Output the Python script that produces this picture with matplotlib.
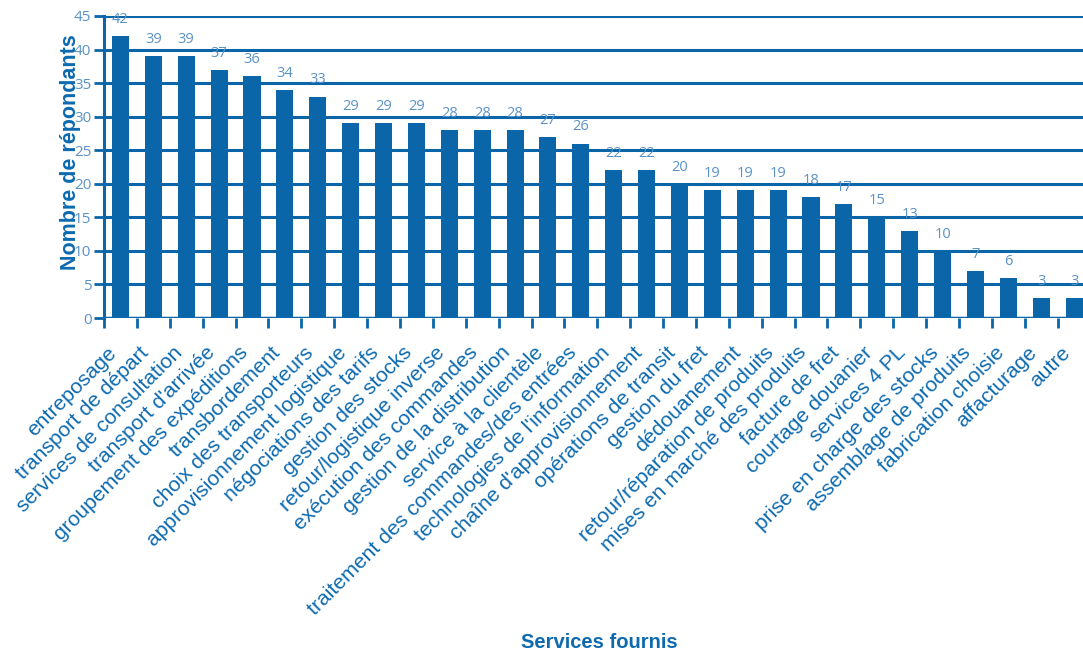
import numpy as np
import matplotlib
matplotlib.use('Agg')
import matplotlib.pyplot as plt
import matplotlib.transforms as mtransforms

# Services fournis et nombre de répondants
services = [
    "entreposage", "transport de départ", "services de consultation",
    "transport d'arrivée", "groupement des expéditions", "transbordement",
    "choix des transporteurs", "approvisionnement logistique",
    "négociations des tarifs", "gestion des stocks", "retour/logistique inverse",
    "exécution des commandes", "gestion de la distribution",
    "service à la clientèle", "traitement des commandes/des entrées",
    "technologies de l'information", "chaîne d'approvisionnement",
    "opérations de transit", "gestion du fret", "dédouanement",
    "retour/réparation de produits", "mises en marché des produits",
    "facture de fret", "courtage douanier", "services 4 PL",
    "prise en charge des stocks", "assemblage de produits",
    "fabrication choisie", "affacturage", "autre",
]
repondants = [42, 39, 39, 37, 36, 34, 33, 29, 29, 29, 28, 28, 28, 27, 26,
              22, 22, 20, 19, 19, 19, 18, 17, 15, 13, 10, 7, 6, 3, 3]

dark_blue = '#0a66a8'
light_blue = '#5a92c8'
label_blue = '#0d6ab0'

fig = plt.figure(figsize=(10.83, 6.53), dpi=100)
ax = fig.add_axes([0.096, 0.513, 0.911, 0.4625])

x = np.arange(len(services))
ax.bar(x, repondants, width=0.52, color=dark_blue, zorder=3)

for xi, v in zip(x, repondants):
    ax.annotate(str(v), (xi, v), xytext=(0, 12), textcoords='offset points',
                ha='center', va='center', color=light_blue, fontsize=10.5,
                family='Open Sans', zorder=4)

ax.set_xlim(-0.5, len(services) - 0.5)
ax.set_ylim(0, 45)
ax.set_yticks(np.arange(0, 46, 5))
ax.yaxis.grid(True, color=dark_blue, linewidth=2.2, zorder=1)
ax.set_axisbelow(True)

for side in ['top', 'right', 'bottom']:
    ax.spines[side].set_visible(False)
ax.spines['left'].set_color(dark_blue)
ax.spines['left'].set_linewidth(2.2)
ax.axhline(0, color=dark_blue, linewidth=2.5, zorder=5)

ax.tick_params(axis='y', colors=dark_blue, length=7, width=2, labelcolor=light_blue,
               labelsize=11, pad=2)
for lbl in ax.get_yticklabels():
    lbl.set_family('Open Sans')

# category labels on bar centres, tick marks between bars
ax.set_xticks(x)
ax.set_xticklabels(services, rotation=45, ha='right', rotation_mode='anchor',
                   color=label_blue, fontsize=15.2, family='Liberation Sans')
ax.tick_params(axis='x', length=0, pad=18)
shift = mtransforms.ScaledTranslation(-14 / 100, 0, fig.dpi_scale_trans)
for lbl in ax.get_xticklabels():
    lbl.set_transform(lbl.get_transform() + shift)
ax.set_xticks(np.arange(-0.5, len(services), 1), minor=True)
ax.tick_params(axis='x', which='minor', length=7, width=2, color=dark_blue)

ax.set_ylabel('Nombre de répondants', color=label_blue, fontsize=15.5,
              fontweight='bold', family='Liberation Sans')
ax.yaxis.set_label_coords(-0.023, 0.55)
fig.text(0.553, 0.002, 'Services fournis', color=label_blue, fontsize=14.5,
         fontweight='bold', family='Liberation Sans', ha='center', va='bottom')

fig.savefig('out.png', dpi=100)
